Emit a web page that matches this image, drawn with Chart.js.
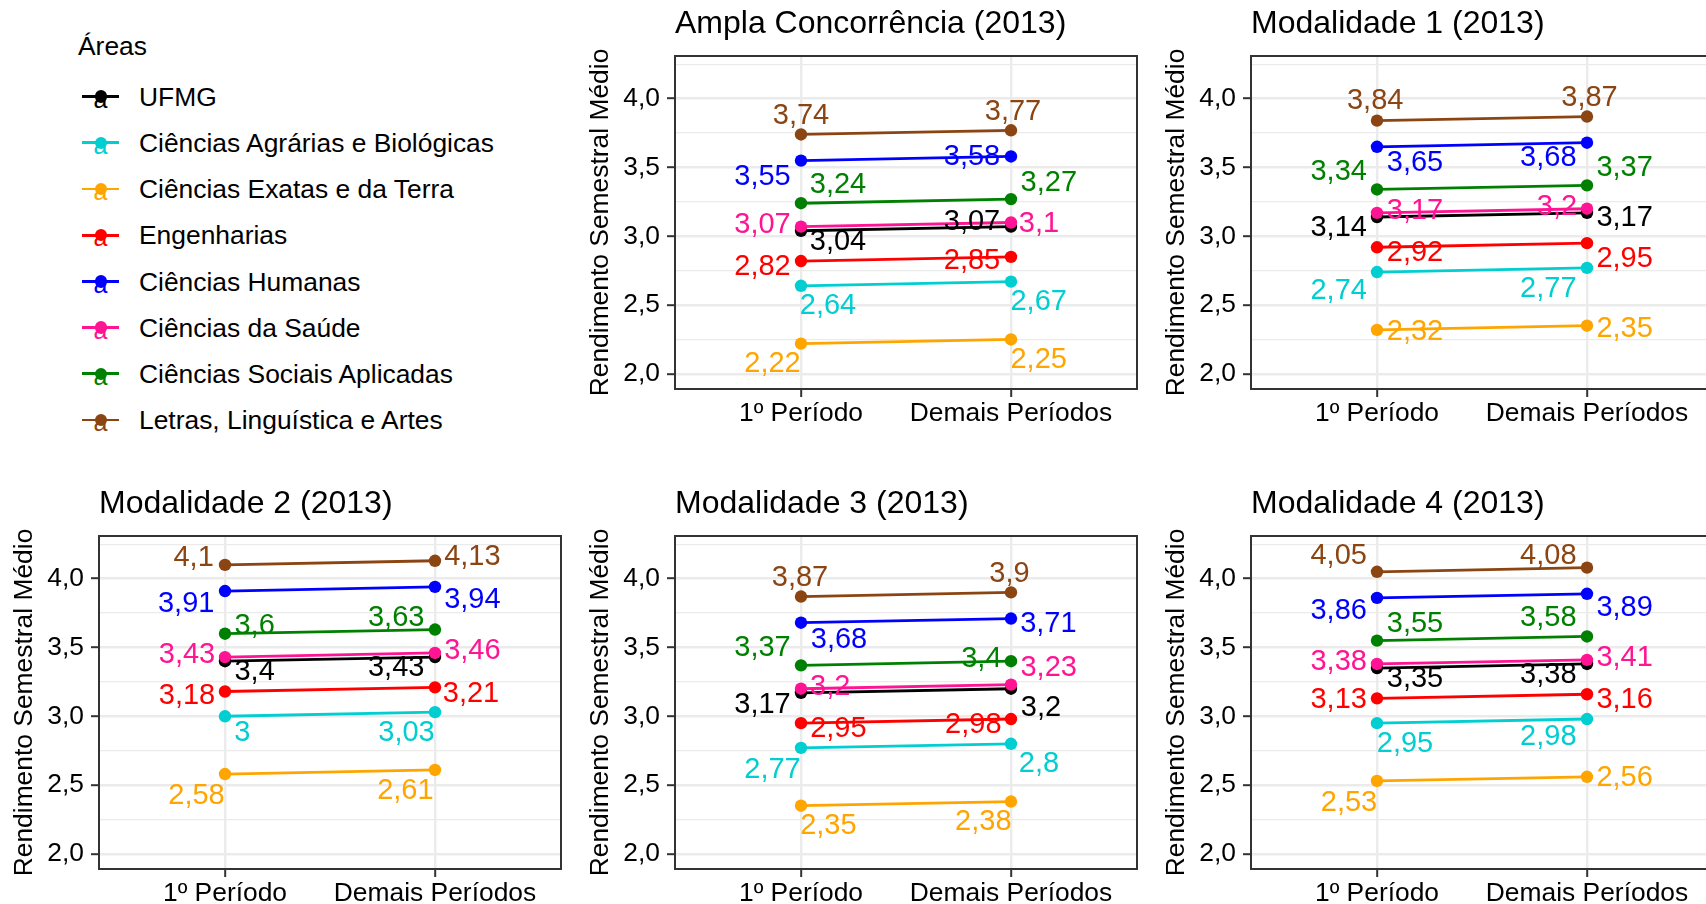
<!DOCTYPE html>
<html lang="pt-BR">
<head>
<meta charset="utf-8">
<title>Rendimento Semestral Médio (2013)</title>
<script src="https://cdn.jsdelivr.net/npm/chart.js@4.4.1/dist/chart.umd.min.js"></script>
<style>
    html, body { margin: 0; padding: 0; background: #fff; overflow: hidden; }
    body { width: 1706px; height: 904px; position: relative; font-family: "Liberation Sans", Arial, Helvetica, sans-serif; }
    .panel { position: absolute; }
    .leg-title { position: absolute; left: 78px; top: 30px; font-size: 26.4px; line-height: 32px; color: #000; }
    .leg-row { position: absolute; left: 0; width: 560px; height: 32px; }
    .leg-line { position: absolute; left: 82px; top: 14.6px; width: 37px; height: 2.8px; }
    .leg-dot { position: absolute; left: 94.5px; top: 9.8px; width: 12.4px; height: 12.4px; border-radius: 50%; }
    .leg-a { position: absolute; left: 90px; top: 6px; width: 21px; text-align: center; font-size: 25px; line-height: 24px; }
    .leg-text { position: absolute; left: 139px; top: 0; font-size: 26.4px; line-height: 32px; color: #000; white-space: nowrap; }
</style>
</head>
<body>
<div id="legend"></div>
<script>
const FONT = '"Liberation Sans", Arial, Helvetica, sans-serif';
const GRID = '#EBEBEB';
const AXIS = '#333333';

const periods = ['1º Período', 'Demais Períodos'];
const areas = [
    'UFMG',
    'Ciências Agrárias e Biológicas',
    'Ciências Exatas e da Terra',
    'Engenharias',
    'Ciências Humanas',
    'Ciências da Saúde',
    'Ciências Sociais Aplicadas',
    'Letras, Linguística e Artes'
];
const areaColors = ['#000000', '#00CED1', '#FFA500', '#FF0000', '#0000FF', '#FF1493', '#008000', '#8B4513'];
const yTicks = [2.0, 2.5, 3.0, 3.5, 4.0];
const yMinorTicks = [2.25, 2.75, 3.25, 3.75, 4.25];

// one value per area, same order as `areas`
const amplaPrimeiro = [3.04, 2.64, 2.22, 2.82, 3.55, 3.07, 3.24, 3.74];
const amplaDemais   = [3.07, 2.67, 2.25, 2.85, 3.58, 3.10, 3.27, 3.77];
const mod1Primeiro  = [3.14, 2.74, 2.32, 2.92, 3.65, 3.17, 3.34, 3.84];
const mod1Demais    = [3.17, 2.77, 2.35, 2.95, 3.68, 3.20, 3.37, 3.87];
const mod2Primeiro  = [3.40, 3.00, 2.58, 3.18, 3.91, 3.43, 3.60, 4.10];
const mod2Demais    = [3.43, 3.03, 2.61, 3.21, 3.94, 3.46, 3.63, 4.13];
const mod3Primeiro  = [3.17, 2.77, 2.35, 2.95, 3.68, 3.20, 3.37, 3.87];
const mod3Demais    = [3.20, 2.80, 2.38, 2.98, 3.71, 3.23, 3.40, 3.90];
const mod4Primeiro  = [3.35, 2.95, 2.53, 3.13, 3.86, 3.38, 3.55, 4.05];
const mod4Demais    = [3.38, 2.98, 2.56, 3.16, 3.89, 3.41, 3.58, 4.08];

// label offsets in px from each point (repel-style placement), [first, later] per area
const amplaNudges = [
    [[37, 11.7], [-39, -4.7]], [[27, 20.7], [27.7, 20]], [[-28.5, 20.7], [27.7, 20.7]], [[-38.5, 6], [-39, 4.3]],
    [[-38.5, 16.3], [-39, 0.7]], [[-38.5, -1.7], [28, 1.3]], [[37, -18.7], [37.8, -16.3]], [[0, -18], [2, -18.3]]
];
const mod1Nudges = [
    [[-38.3, 11], [37.6, 5]], [[-38.3, 19.3], [-38.7, 20.7]], [[38, 2.3], [37.6, 3.7]], [[38, 5.3], [37.6, 16]],
    [[38, 16], [-38.7, 15]], [[38, -2.3], [-30, -1.7]], [[-38.3, -17.7], [37.6, -17]], [[-1.8, -19.3], [2.5, -19]]
];
const mod2Nudges = [
    [[29.6, 10.7], [-38.8, 11.3]], [[17.4, 16.3], [-28.5, 21.3]], [[-28.5, 22.3], [-29.6, 21.3]], [[-38, 4.3], [36, 6.3]],
    [[-38.8, 12.7], [37.4, 13]], [[-38, -1.7], [37.4, -1.7]], [[29.6, -7.3], [-38.8, -12]], [[-31.4, -7.3], [37.4, -3.7]]
];
const mod3Nudges = [
    [[-38.5, 11.7], [30, 19.7]], [[-28.5, 21.7], [28, 20.7]], [[27.4, 20.7], [-27.7, 20.7]], [[37.4, 5.7], [-37.7, 5.7]],
    [[38, 17], [37.4, 5.7]], [[29.2, -1.7], [37.7, -17]], [[-38.5, -17.7], [-29.6, -2.3]], [[-1, -19], [-1.5, -18.3]]
];
const mod4Nudges = [
    [[38, 10.7], [-38.7, 10.7]], [[28, 21], [-38.7, 18]], [[-28, 21.7], [37.6, 0.7]], [[-38.3, 1.7], [37.6, 5.3]],
    [[-38.3, 13.3], [37.6, 14]], [[-38.3, -2.3], [37.6, -2.3]], [[38, -17], [-38.7, -18]], [[-38.3, -15.3], [-38.7, -11.3]]
];

const panels = [
    {title: 'Ampla Concorrência (2013)', first: amplaPrimeiro, later: amplaDemais, nudges: amplaNudges, col: 1, row: 0},
    {title: 'Modalidade 1 (2013)', first: mod1Primeiro, later: mod1Demais, nudges: mod1Nudges, col: 2, row: 0},
    {title: 'Modalidade 2 (2013)', first: mod2Primeiro, later: mod2Demais, nudges: mod2Nudges, col: 0, row: 1},
    {title: 'Modalidade 3 (2013)', first: mod3Primeiro, later: mod3Demais, nudges: mod3Nudges, col: 1, row: 1},
    {title: 'Modalidade 4 (2013)', first: mod4Primeiro, later: mod4Demais, nudges: mod4Nudges, col: 2, row: 1}
];

const PANEL_LEFTS = [99, 675, 1251];
const ROW_TOPS = [0, 480];
const Y_AXIS_W = 100;
const X_AXIS_H = 35;
const AREA_W = 462;
const CANVAS_W = Y_AXIS_W + AREA_W + 10;
const CANVAS_H = 424;

Chart.defaults.font.family = FONT;

function formatValue(v) {
    return String(v).replace('.', ',');
}

function isMajor(v) {
    return yTicks.includes(v);
}

function makeDecor(panel) {
    return {
        id: 'panelDecor',
        afterDatasetsDraw(chart) {
            const {ctx, chartArea} = chart;
            ctx.save();
            ctx.font = `29px ${FONT}`;
            ctx.textAlign = 'center';
            ctx.textBaseline = 'middle';
            chart.data.datasets.forEach((ds, i) => {
                chart.getDatasetMeta(i).data.forEach((pt, j) => {
                    let [dx, dy] = panel.nudges[i][j];
                    ctx.fillStyle = ds.borderColor;
                    ctx.fillText(formatValue(ds.data[j].y), pt.x + dx, pt.y + dy);
                });
            });
            ctx.strokeStyle = AXIS;
            ctx.lineWidth = 2;
            ctx.strokeRect(chartArea.left, chartArea.top, chartArea.right - chartArea.left, chartArea.bottom - chartArea.top);
            ctx.fillStyle = '#000';
            ctx.font = `32px ${FONT}`;
            ctx.textAlign = 'left';
            ctx.textBaseline = 'alphabetic';
            ctx.fillText(panel.title, chartArea.left, chartArea.top - 23);
            ctx.restore();
        }
    };
}

function renderPanel(panel) {
    let div = document.createElement('div');
    div.className = 'panel';
    div.style.left = (PANEL_LEFTS[panel.col] - Y_AXIS_W) + 'px';
    div.style.top = ROW_TOPS[panel.row] + 'px';
    let canvas = document.createElement('canvas');
    canvas.width = CANVAS_W;
    canvas.height = CANVAS_H;
    canvas.style.width = CANVAS_W + 'px';
    canvas.style.height = CANVAS_H + 'px';
    div.appendChild(canvas);
    document.body.appendChild(div);

    let datasets = areas.map((area, i) => ({
        label: area,
        data: [{x: 1, y: panel.first[i]}, {x: 2, y: panel.later[i]}],
        borderColor: areaColors[i],
        backgroundColor: areaColors[i],
        borderWidth: 2.8,
        pointRadius: 6.2,
        pointBorderWidth: 0,
        tension: 0,
        order: areas.length - i
    }));

    return new Chart(canvas, {
        type: 'line',
        data: {datasets: datasets},
        plugins: [makeDecor(panel)],
        options: {
            responsive: false,
            animation: false,
            devicePixelRatio: 1,
            layout: {padding: {top: 56, right: 10, bottom: 0, left: 0}},
            plugins: {
                legend: {display: false},
                tooltip: {enabled: false}
            },
            scales: {
                x: {
                    type: 'linear',
                    min: 0.4,
                    max: 2.6,
                    afterBuildTicks: scale => {
                        scale.ticks = periods.map((p, i) => ({value: i + 1}));
                    },
                    afterFit: scale => {
                        scale.height = X_AXIS_H;
                    },
                    ticks: {
                        autoSkip: false,
                        maxRotation: 0,
                        padding: 1,
                        color: '#000',
                        font: {size: 26.4},
                        callback: value => periods[value - 1]
                    },
                    grid: {color: GRID, lineWidth: 2.4, tickColor: AXIS, tickLength: 8, tickWidth: 2},
                    border: {display: false}
                },
                y: {
                    type: 'linear',
                    min: 1.89,
                    max: 4.31,
                    afterBuildTicks: scale => {
                        scale.ticks = yTicks.concat(yMinorTicks).sort((a, b) => a - b).map(v => ({value: v}));
                    },
                    afterFit: scale => {
                        scale.width = Y_AXIS_W;
                    },
                    ticks: {
                        autoSkip: false,
                        padding: 7,
                        color: '#000',
                        font: {size: 26.4},
                        callback: value => isMajor(value) ? value.toFixed(1).replace('.', ',') : ''
                    },
                    grid: {
                        color: GRID,
                        lineWidth: ctx => isMajor(ctx.tick.value) ? 2.4 : 1.2,
                        tickColor: ctx => isMajor(ctx.tick.value) ? AXIS : 'rgba(0,0,0,0)',
                        tickLength: 8,
                        tickWidth: 2
                    },
                    border: {display: false},
                    title: {
                        display: true,
                        text: 'Rendimento Semestral Médio',
                        color: '#000',
                        font: {size: 26.4},
                        padding: {top: 10, bottom: 0}
                    }
                }
            }
        }
    });
}

function renderLegend() {
    let legend = document.getElementById('legend');
    let html = '<div class="leg-title">Áreas</div>';
    areas.forEach((area, i) => {
        let top = 96.7 + i * 46.2 - 16;
        let color = areaColors[i];
        html += `
            <div class="leg-row" style="top:${top}px">
                <div class="leg-line" style="background:${color}"></div>
                <div class="leg-dot" style="background:${color}"></div>
                <div class="leg-a" style="color:${color}">a</div>
                <div class="leg-text">${area}</div>
            </div>`;
    });
    legend.innerHTML = html;
}

renderLegend();
panels.forEach(panel => renderPanel(panel));
</script>
</body>
</html>
